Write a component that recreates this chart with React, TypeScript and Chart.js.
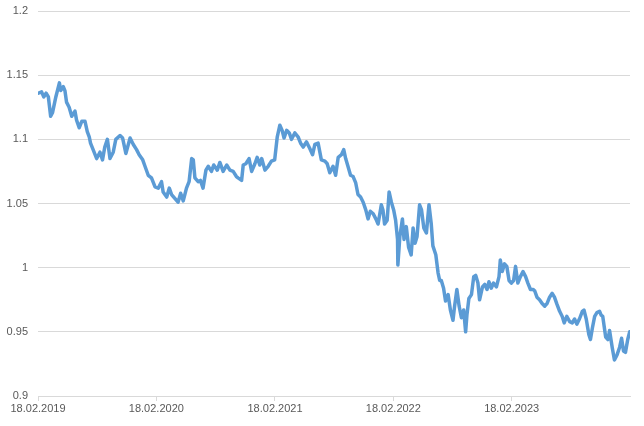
import React, { useEffect, useRef } from "react";
import { Chart, registerables } from "chart.js";

Chart.register(...registerables);

// x positions: days since 18.02.2019
const days: number[] = [
  1, 11, 18, 25, 32, 39, 45, 55, 66, 70, 78, 83, 88, 96, 104, 109, 114, 119, 127, 135,
  145, 152, 158, 162, 170, 181, 191, 199, 206, 214, 222, 232, 240, 253, 261, 271, 284, 294, 304, 312,
  323, 330, 340, 350, 361, 371, 381, 386, 397, 405, 412, 422, 432, 440, 448, 458, 466, 474, 479, 484,
  494, 501, 509, 518, 525, 535, 542, 553, 561, 571, 582, 592, 602, 612, 617, 628, 633, 641, 651, 659,
  669, 676, 684, 690, 700, 710, 720, 730, 738, 746, 753, 759, 767, 775, 782, 792, 802, 810, 818, 828,
  838, 847, 854, 864, 874, 885, 892, 900, 910, 918, 926, 936, 943, 949, 956, 964, 972, 980, 987, 995,
  1003, 1011, 1018, 1025, 1034, 1042, 1049, 1059, 1064, 1069, 1077, 1083, 1090, 1097, 1103, 1109, 1110, 1116, 1124, 1129,
  1136, 1143, 1151, 1157, 1163, 1169, 1177, 1183, 1190, 1198, 1206, 1213, 1218, 1227, 1234, 1239, 1244, 1251, 1257, 1265,
  1272, 1280, 1285, 1292, 1299, 1306, 1313, 1319, 1323, 1329, 1337, 1344, 1350, 1357, 1362, 1371, 1378, 1385, 1391, 1398,
  1405, 1414, 1422, 1426, 1432, 1439, 1446, 1453, 1460, 1467, 1473, 1480, 1488, 1496, 1504, 1511, 1519, 1527, 1532, 1539,
  1547, 1555, 1563, 1570, 1578, 1586, 1593, 1600, 1609, 1617, 1623, 1631, 1640, 1648, 1655, 1662, 1670, 1679, 1684, 1691,
  1699, 1704, 1710, 1717, 1724, 1732, 1737, 1742, 1751, 1758, 1763, 1771, 1778, 1786, 1794, 1800, 1806, 1812, 1819, 1825,
];

const rates: number[] = [
  1.136, 1.137, 1.133, 1.136, 1.133, 1.118, 1.121, 1.133, 1.144, 1.138, 1.141, 1.138, 1.129, 1.125, 1.118, 1.12, 1.122, 1.115, 1.109, 1.114,
  1.114, 1.106, 1.102, 1.097, 1.092, 1.085, 1.09, 1.084, 1.094, 1.1, 1.085, 1.09, 1.1, 1.103, 1.101, 1.089, 1.101, 1.096, 1.092, 1.088,
  1.084, 1.079, 1.072, 1.07, 1.063, 1.062, 1.067, 1.059, 1.055, 1.062, 1.057, 1.054, 1.051, 1.058, 1.052, 1.062, 1.067, 1.085, 1.084, 1.07,
  1.067, 1.068, 1.062, 1.076, 1.079, 1.075, 1.08, 1.076, 1.082, 1.075, 1.08, 1.076, 1.075, 1.071, 1.07, 1.068, 1.08, 1.081, 1.085, 1.075,
  1.081, 1.086, 1.08, 1.085, 1.076, 1.079, 1.083, 1.084, 1.102, 1.111, 1.107, 1.101, 1.107, 1.105, 1.1, 1.105, 1.102, 1.097, 1.094, 1.098,
  1.093, 1.088, 1.096, 1.097, 1.084, 1.083, 1.081, 1.074, 1.079, 1.072, 1.086, 1.088, 1.092, 1.085, 1.079, 1.072, 1.071, 1.066, 1.057, 1.055,
  1.051, 1.045, 1.038, 1.044, 1.042, 1.038, 1.034, 1.049, 1.045, 1.034, 1.037, 1.059, 1.051, 1.045, 1.037, 1.022, 1.002, 1.024, 1.038, 1.022,
  1.032, 1.016, 1.01, 1.031, 1.019, 1.024, 1.049, 1.045, 1.031, 1.027, 1.049, 1.034, 1.017, 1.01, 0.996, 0.99, 0.99, 0.984, 0.974, 0.979,
  0.967, 0.959, 0.97, 0.983, 0.97, 0.961, 0.967, 0.95, 0.963, 0.976, 0.979, 0.993, 0.994, 0.988, 0.975, 0.985, 0.987, 0.983, 0.989, 0.984,
  0.988, 0.985, 0.993, 1.006, 0.997, 1.003, 1.001, 0.99, 0.988, 0.99, 1.001, 0.988, 0.993, 0.997, 0.993, 0.988, 0.983, 0.983, 0.982, 0.977,
  0.975, 0.972, 0.97, 0.972, 0.977, 0.98, 0.977, 0.972, 0.966, 0.962, 0.957, 0.962, 0.958, 0.957, 0.96, 0.956, 0.96, 0.966, 0.967, 0.96,
  0.948, 0.944, 0.953, 0.962, 0.965, 0.966, 0.963, 0.962, 0.946, 0.944, 0.951, 0.938, 0.928, 0.932, 0.938, 0.945, 0.935, 0.934, 0.944, 0.95,
];

const tickDays: number[] = [0, 365, 731, 1096, 1461];
const tickLabels: string[] = ["18.02.2019", "18.02.2020", "18.02.2021", "18.02.2022", "18.02.2023"];

export default function App() {
  const ref = useRef<HTMLCanvasElement | null>(null);

  useEffect(() => {
    if (!ref.current) return;
    const data = days.map((d, i) => ({ x: d, y: rates[i] }));
    const chart = new Chart(ref.current, {
      type: "line",
      data: {
        datasets: [
          {
            data,
            borderColor: "#5B9BD5",
            borderWidth: 3.5,
            pointRadius: 0,
            tension: 0,
            borderJoinStyle: "round",
            borderCapStyle: "round",
            fill: false,
          },
        ],
      },
      options: {
        animation: false,
        responsive: true,
        maintainAspectRatio: false,
        layout: { padding: { top: 11, right: 14, left: 0, bottom: 0 } },
        plugins: { legend: { display: false }, tooltip: { enabled: false } },
        scales: {
          x: {
            type: "linear",
            min: 0,
            max: 1826,
            afterBuildTicks: (scale: any) => {
              scale.ticks = tickDays.map((v) => ({ value: v }));
            },
            afterFit: (scale: any) => {
              scale.height = 30;
              scale.paddingLeft = 0;
              scale.paddingRight = 0;
            },
            grid: {
              drawOnChartArea: false,
              drawTicks: true,
              tickLength: 5,
              color: "#d9d9d9",
            },
            border: { display: true, color: "#d9d9d9" },
            ticks: {
              autoSkip: false,
              maxRotation: 0,
              padding: 1,
              color: "#595959",
              font: { family: "'Liberation Sans', Arial, sans-serif", size: 11 },
              callback: (v: any) => {
                const i = tickDays.indexOf(Number(v));
                return i >= 0 ? tickLabels[i] : "";
              },
            },
          },
          y: {
            min: 0.9,
            max: 1.2,
            afterFit: (scale: any) => {
              scale.width = 38;
              scale.paddingTop = 0;
              scale.paddingBottom = 0;
            },
            grid: { drawTicks: false, color: "#d9d9d9" },
            border: { display: false },
            ticks: {
              stepSize: 0.05,
              padding: 10,
              color: "#595959",
              font: { family: "'Liberation Sans', Arial, sans-serif", size: 11 },
              callback: (v: any) => String(Number(Number(v).toFixed(2))),
            },
          },
        },
      },
    });
    return () => chart.destroy();
  }, []);

  return (
    <div style={{ position: "absolute", left: 0, top: 0, width: 644, height: 426, background: "#fff" }}>
      <canvas ref={ref} />
    </div>
  );
}
